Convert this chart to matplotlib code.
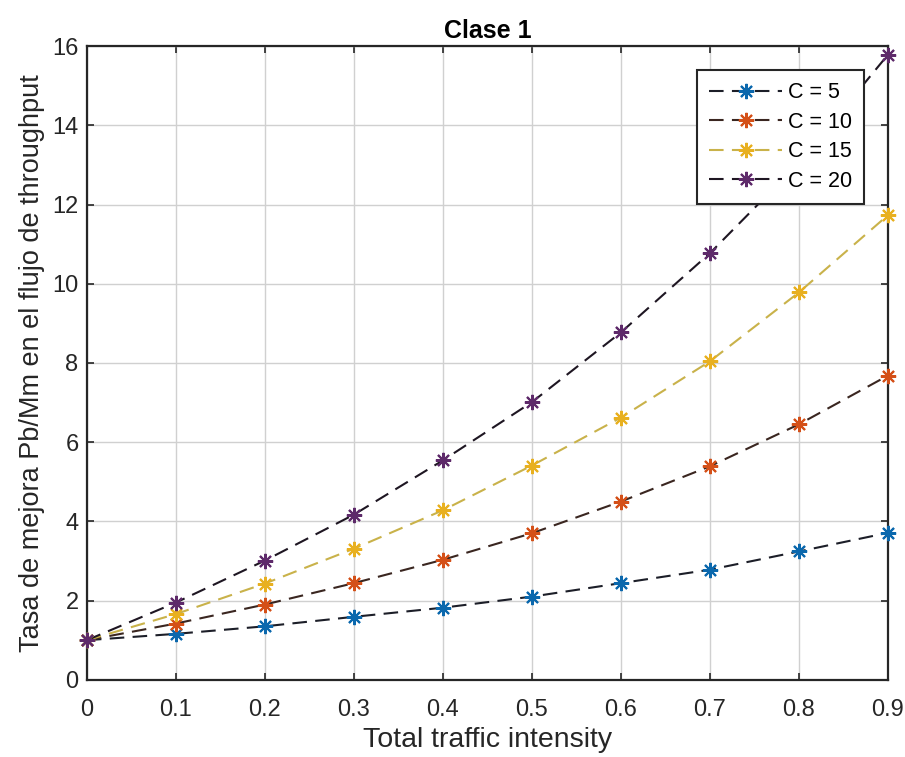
import matplotlib
matplotlib.use("Agg")  # Non-interactive backend
import matplotlib.pyplot as plt

plt.rcParams["font.family"] = ["Liberation Sans", "DejaVu Sans"]

# Data
intensity = [0.0, 0.1, 0.2, 0.3, 0.4, 0.5, 0.6, 0.7, 0.8, 0.9]
c5 = [1.0, 1.16, 1.35, 1.59, 1.82, 2.10, 2.44, 2.78, 3.24, 3.71]
c10 = [1.0, 1.42, 1.90, 2.44, 3.03, 3.70, 4.50, 5.39, 6.45, 7.68]
c15 = [1.0, 1.66, 2.43, 3.31, 4.28, 5.41, 6.62, 8.04, 9.78, 11.73]
c20 = [1.0, 1.95, 3.01, 4.17, 5.54, 7.01, 8.77, 10.77, 13.05, 15.78]
labels = ["C = 5", "C = 10", "C = 15", "C = 20"]

series = [c5, c10, c15, c20]
marker_colors = ["#0b68ad", "#d45018", "#e8b020", "#5e2a6a"]
line_colors = ["#1c1e28", "#3a2620", "#c9b24a", "#1e1622"]

DASH = (0, (7, 4))
STAR = (8, 2, 0)  # MATLAB-style asterisk (+ and x)


def main():
    fig = plt.figure(figsize=(9.05, 7.57), dpi=100)
    ax = fig.add_axes([0.096, 0.102, 0.885, 0.837])

    handles = []
    for ys, lab, mc, lc in zip(series, labels, marker_colors, line_colors):
        ax.plot(intensity, ys, linestyle=DASH, color=lc, linewidth=1.5, zorder=3)
        ax.plot(intensity, ys, linestyle="none", marker=STAR, markersize=11,
                markeredgecolor=mc, markeredgewidth=1.5, clip_on=False, zorder=4)
        h, = ax.plot([], [], linestyle=DASH, color=lc, linewidth=1.5,
                     marker=STAR, markersize=11, markeredgecolor=mc,
                     markeredgewidth=1.5, label=lab)
        handles.append(h)

    leg = ax.legend(handles=handles, loc="upper right", bbox_to_anchor=(0.970, 0.962),
                    borderaxespad=0, fontsize=15.5, frameon=True, fancybox=False,
                    framealpha=1, edgecolor="#262626", handlelength=3.4,
                    borderpad=0.55, labelspacing=0.4, handletextpad=0.25)
    leg.get_frame().set_linewidth(1.5)
    leg.set_zorder(5)

    ax.set_xlim(0, 0.9)
    ax.set_ylim(0, 16)
    ax.set_xticks(intensity)
    ax.set_xticklabels(["0", "0.1", "0.2", "0.3", "0.4", "0.5", "0.6", "0.7", "0.8", "0.9"])
    ax.set_yticks(range(0, 17, 2))
    ax.tick_params(labelsize=17, direction="in", length=5, width=1.2,
                   top=True, right=True, colors="#262626")
    ax.tick_params(axis="x", pad=14)
    ax.tick_params(axis="y", pad=6)
    ax.grid(True, color="#d0d0d0", linewidth=1.0)
    for sp in ax.spines.values():
        sp.set_linewidth(1.6)
        sp.set_color("#262626")

    ax.set_xlabel("Total traffic intensity", fontsize=20.5, color="#262626", labelpad=4)
    ax.set_ylabel("Tasa de mejora Pb/Mm en el flujo de throughput", fontsize=19.5,
                  color="#262626", labelpad=5)
    ax.set_title("Clase 1", fontsize=18, fontweight="bold", pad=6)

    fig.savefig("out.png", dpi=100)


if __name__ == "__main__":
    main()
